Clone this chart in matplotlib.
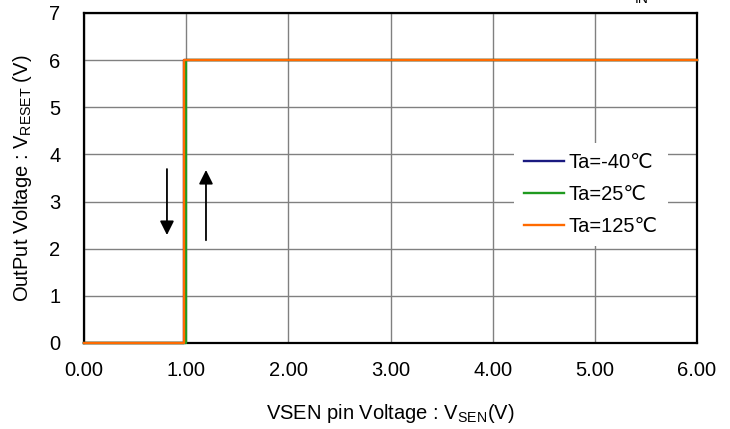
import matplotlib
matplotlib.use("Agg")
from matplotlib import pyplot as plt

plt.rcParams["font.family"] = ["Liberation Sans", "DejaVu Sans"]
plt.rcParams["font.size"] = 14.5
plt.rcParams["mathtext.fontset"] = "custom"
plt.rcParams["mathtext.rm"] = "Liberation Sans"

# VSEN sweep (V) and output voltage (V) per temperature
vsen_m40 = [0.00, 0.98, 0.98, 6.00]
vout_m40 = [0, 0, 6, 6]
vsen_25 = [0.00, 1.00, 1.00, 6.00]
vout_25 = [0, 0, 6, 6]
vsen_125 = [0.00, 0.98, 0.98, 6.00]
vout_125 = [0, 0, 6, 6]

labels = ["Ta=-40\u2103", "Ta=25\u2103", "Ta=125\u2103"]
colors = ["#1a1a80", "#1f9a1f", "#ff6a00"]

xticks = [0, 1, 2, 3, 4, 5, 6]
yticks = [0, 1, 2, 3, 4, 5, 6, 7]

fig = plt.figure(figsize=(7.3, 4.29), dpi=100)
ax = fig.add_axes([84 / 730, 1 - 343 / 429, 613 / 730, 330 / 429])

ax.plot(vsen_m40, vout_m40, color=colors[0], lw=1.7, label=labels[0], clip_on=False, zorder=3)
ax.plot(vsen_25, vout_25, color=colors[1], lw=1.7, label=labels[1], clip_on=False, zorder=3)
ax.plot(vsen_125, vout_125, color=colors[2], lw=1.7, label=labels[2], clip_on=False, zorder=3)

ax.set_xlim(0, 6)
ax.set_ylim(0, 7)
ax.set_xticks(xticks)
ax.set_xticklabels(["{:.2f}".format(v) for v in xticks])
ax.set_yticks(yticks)
ax.grid(True, color="#808080", lw=1.0)
ax.set_axisbelow(True)
ax.tick_params(axis="x", length=0, pad=13)
ax.tick_params(axis="y", length=0, pad=17)
for s in ax.spines.values():
    s.set_linewidth(1.6)
    s.set_color("black")

# hysteresis arrows
ax.annotate("", xy=(0.812, 2.29), xytext=(0.812, 3.69),
            arrowprops=dict(arrowstyle="-|>,head_length=0.6,head_width=0.3",
                            color="black", lw=1.3, mutation_scale=14, shrinkA=0, shrinkB=0))
ax.annotate("", xy=(1.194, 3.67), xytext=(1.194, 2.18),
            arrowprops=dict(arrowstyle="-|>,head_length=0.6,head_width=0.3",
                            color="black", lw=1.3, mutation_scale=14, shrinkA=0, shrinkB=0))

leg = ax.legend(loc="upper left", bbox_to_anchor=((514 - 84) / 613, (343 - 143) / 330),
                borderaxespad=0, frameon=True, edgecolor="white", facecolor="white",
                framealpha=1, fancybox=False, handlelength=2.0, handletextpad=0.2,
                labelspacing=0.64, borderpad=0.5)
leg.get_frame().set_linewidth(0)
leg.set_zorder(4)

ax.set_xlabel("VSEN pin Voltage : V$_{\\mathregular{SEN}}$(V)", labelpad=16)
ax.set_ylabel("OutPut Voltage : V$_{\\mathregular{RESET}}$ (V)", labelpad=11)

fig.text(0.879, 1 - 3 / 429, "IN", fontsize=10, va="baseline", ha="center")

plt.savefig("out.png", dpi=100)
